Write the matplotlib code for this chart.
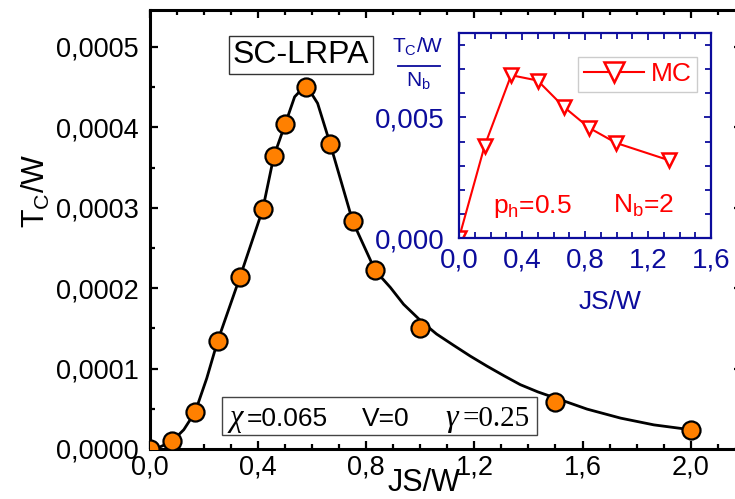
import matplotlib
matplotlib.use("Agg")
import matplotlib.pyplot as plt
from matplotlib.ticker import MultipleLocator
from matplotlib.patches import Rectangle
from matplotlib.lines import Line2D

plt.rcParams["font.family"] = ["Liberation Sans", "DejaVu Sans"]
plt.rcParams["mathtext.default"] = "regular"

# ---- SC-LRPA data (main panel) ----
js_lrpa = [0.0, 0.083, 0.167, 0.25, 0.333, 0.417, 0.458, 0.5, 0.577,
           0.667, 0.75, 0.833, 1.0, 1.5, 2.0]
tc_lrpa = [0.0, 0.10e-4, 0.463e-4, 1.34e-4, 2.14e-4, 2.98e-4, 3.64e-4,
           4.04e-4, 4.50e-4, 3.79e-4, 2.83e-4, 2.23e-4, 1.50e-4, 0.579e-4,
           0.238e-4]

# smooth guide curve through the SC-LRPA results
js_curve = [0.0, 0.04, 0.083, 0.125, 0.167, 0.21, 0.25, 0.333, 0.417,
            0.458, 0.5, 0.535, 0.577, 0.62, 0.667, 0.75, 0.833, 0.889,
            0.938, 1.003, 1.06, 1.123, 1.185, 1.247, 1.31, 1.37, 1.435, 1.5,
            1.617, 1.741, 1.864, 2.0]
tc_curve = [0.0, 0.03e-4, 0.10e-4, 0.24e-4, 0.46e-4, 0.88e-4, 1.34e-4,
            2.14e-4, 2.98e-4, 3.64e-4, 4.04e-4, 4.38e-4, 4.53e-4, 4.30e-4,
            3.79e-4, 2.83e-4, 2.22e-4, 2.01e-4, 1.80e-4, 1.59e-4, 1.43e-4,
            1.29e-4, 1.155e-4, 1.03e-4, 0.91e-4, 0.80e-4, 0.71e-4, 0.634e-4,
            0.496e-4, 0.384e-4, 0.30e-4, 0.24e-4]

# ---- Monte Carlo data (inset) ----
js_mc = [0.0, 0.163, 0.331, 0.499, 0.665, 0.828, 0.998, 1.335]
tc_mc = [0.0, 0.00383, 0.00675, 0.00653, 0.00544, 0.00456, 0.00394, 0.00322]

# tick values and labels
main_xticks = [0.0, 0.4, 0.8, 1.2, 1.6, 2.0]
main_xlabels = ["0,0", "0,4", "0,8", "1,2", "1,6", "2,0"]
main_yticks = [0.0, 0.0001, 0.0002, 0.0003, 0.0004, 0.0005]
main_ylabels = ["0,0000", "0,0001", "0,0002", "0,0003", "0,0004", "0,0005"]
inset_xticks = [0.0, 0.4, 0.8, 1.2, 1.6]
inset_xlabels = ["0,0", "0,4", "0,8", "1,2", "1,6"]
inset_yticks = [0.0, 0.005]
inset_ylabels = ["0,000", "0,005"]

W, H = 735, 499
BLUE = "#0c0c9c"
RED = "#ff0000"
ORANGE = "#ff8000"


def fx(px):
    return px / W


def fy(py):
    return 1 - py / H


fig = plt.figure(figsize=(W / 100, H / 100), dpi=100)

# ---- main axes ----
ax = fig.add_axes([fx(150), fy(449), (742 - 150) / W, (449 - 10) / H])
ax.plot(js_curve, tc_curve, color="black", lw=2.0, zorder=2)
ax.plot(js_lrpa, tc_lrpa, ls="none", marker="o", ms=13, mfc=ORANGE,
        mec="black", mew=1.6, zorder=3)
ax.set_xlim(0, 2.19)
ax.set_ylim(0, 0.000546)
ax.set_xticks(main_xticks, labels=main_xlabels)
ax.set_yticks(main_yticks, labels=main_ylabels)
ax.xaxis.set_minor_locator(MultipleLocator(0.1))
ax.yaxis.set_minor_locator(MultipleLocator(0.00005))
ax.tick_params(which="both", direction="in", top=True, right=True,
               width=1.6, labelsize=19.5)
ax.tick_params(which="major", length=6)
ax.tick_params(which="minor", length=3.5)
ax.tick_params(axis="y", pad=8)
ax.tick_params(axis="x", pad=4)
for sp in ax.spines.values():
    sp.set_linewidth(2.2)
ax.set_xlabel("JS/W", fontsize=22)
ax.xaxis.set_label_coords((424 - 150) / 592, (449 - 491) / 439)
ax.xaxis.label.set_va("baseline")
ax.set_ylabel("T$_C$/W", fontsize=22)
ax.yaxis.set_label_coords((52 - 150) / 592, (449 - 191) / 439)

# method label
fig.text(fx(301), fy(55), "SC-LRPA", fontsize=23, ha="center", va="center",
         bbox=dict(boxstyle="square,pad=0.12", fc="white", ec="#333333", lw=1.0))

# parameter box
fig.add_artist(Rectangle((fx(222), fy(435)), (537 - 222) / W, (435 - 397) / H,
                         transform=fig.transFigure, fc="white", ec="#444444",
                         lw=1.0, zorder=2))
base = fy(426)
fig.text(fx(229), base, "\u03c7", fontsize=22, family="Liberation Serif",
         style="italic", va="baseline", zorder=4)
fig.text(fx(247), base, "=0.065", fontsize=19, va="baseline", zorder=4)
fig.text(fx(362), base, "V=0", fontsize=19, va="baseline", zorder=4)
fig.text(fx(445), base, "\u03b3", fontsize=23, family="Liberation Serif",
         style="italic", va="baseline", zorder=4)
fig.text(fx(463), base, "=0.25", fontsize=21, family="Liberation Serif",
         va="baseline", zorder=4)

# ---- inset axes ----
axi = fig.add_axes([fx(459), fy(238), (711 - 459) / W, (238 - 33) / H])
axi.plot(js_mc, tc_mc, color=RED, lw=1.5, marker="v", ms=10,
         mfc="white", mec=RED, mew=1.8, label="MC")
axi.set_xlim(0, 1.6)
axi.set_ylim(0, 0.0085)
axi.set_xticks(inset_xticks, labels=inset_xlabels)
axi.set_yticks(inset_yticks, labels=inset_ylabels)
axi.xaxis.set_minor_locator(MultipleLocator(0.1))
axi.yaxis.set_minor_locator(MultipleLocator(0.001))
axi.tick_params(which="both", direction="in", top=True, right=True,
                color=BLUE, labelcolor=BLUE, width=1.3, labelsize=20)
axi.tick_params(which="major", length=5)
axi.tick_params(which="minor", length=4)
axi.tick_params(axis="y", pad=10)
axi.tick_params(axis="x", pad=7)
for sp in axi.spines.values():
    sp.set_linewidth(1.6)
    sp.set_color(BLUE)
axi.set_xlabel("JS/W", fontsize=19, color=BLUE)
axi.xaxis.set_label_coords((610 - 459) / 252, (238 - 290) / 205)
axi.xaxis.label.set_va("top")

leg = axi.legend(loc="upper right", bbox_to_anchor=((697 - 459) / 252, (238 - 57) / 205),
                 borderaxespad=0, fontsize=19, markerscale=1.45, handlelength=2.3,
                 handletextpad=0.25, borderpad=0.2, fancybox=False,
                 edgecolor="#cccccc", framealpha=1)
for t in leg.get_texts():
    t.set_color(RED)
leg.get_frame().set_linewidth(1.0)

axi.text((493 - 459) / 252, (238 - 213) / 205, "p$_h$=0.5", transform=axi.transAxes,
         fontsize=19, color=RED, va="baseline")
axi.text((613 - 459) / 252, (238 - 213) / 205, "N$_b$=2", transform=axi.transAxes,
         fontsize=19, color=RED, va="baseline")

# inset ordinate label written as a fraction
fig.text(fx(418), fy(53), "T$_C$/W", fontsize=15, color=BLUE, ha="center",
         va="baseline")
fig.add_artist(Line2D([fx(398), fx(440)], [fy(65.5), fy(65.5)],
                      transform=fig.transFigure, color=BLUE, lw=1.3))
fig.text(fx(418), fy(87), "N$_b$", fontsize=15, color=BLUE, ha="center",
         va="baseline")

fig.savefig("out.png", dpi=100)
